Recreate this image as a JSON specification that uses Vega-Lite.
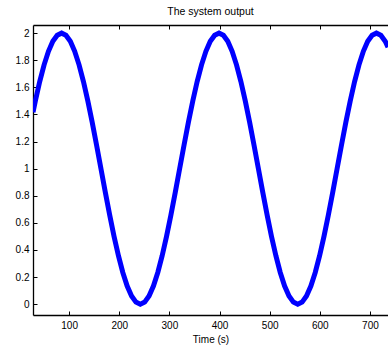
{
  "$schema": "https://vega.github.io/schema/vega-lite/v6.json",
  "autosize": "none",
  "width": 355,
  "height": 290,
  "padding": {"left": 33, "top": 25, "right": 0, "bottom": 34},
  "background": "white",
  "config": {
    "view": {"stroke": null},
    "font": "Liberation Sans",
    "axis": {"grid": false, "domainColor": "black", "domainWidth": 1.3, "tickColor": "black", "tickWidth": 1, "labelColor": "black", "titleColor": "black", "labelFont": "Liberation Sans", "titleFont": "Liberation Sans", "labelFontSize": 10, "titleFontSize": 10, "titleFontWeight": "normal"}
  },
  "title": {"text": "The system output", "fontSize": 10.5, "fontWeight": "normal", "font": "Liberation Sans", "color": "black", "offset": 7},
  "data": {"values": [
    {"t": 28.0, "y": 1.417},
    {"t": 32.67, "y": 1.5},
    {"t": 41.39, "y": 1.6428},
    {"t": 50.11, "y": 1.766},
    {"t": 58.83, "y": 1.866},
    {"t": 67.56, "y": 1.9397},
    {"t": 76.28, "y": 1.9848},
    {"t": 85.0, "y": 2.0},
    {"t": 93.72, "y": 1.9848},
    {"t": 102.44, "y": 1.9397},
    {"t": 111.17, "y": 1.866},
    {"t": 119.89, "y": 1.766},
    {"t": 128.61, "y": 1.6428},
    {"t": 137.33, "y": 1.5},
    {"t": 146.06, "y": 1.342},
    {"t": 154.78, "y": 1.1736},
    {"t": 163.5, "y": 1.0},
    {"t": 172.22, "y": 0.8264},
    {"t": 180.94, "y": 0.658},
    {"t": 189.67, "y": 0.5},
    {"t": 198.39, "y": 0.3572},
    {"t": 207.11, "y": 0.234},
    {"t": 215.83, "y": 0.134},
    {"t": 224.56, "y": 0.0603},
    {"t": 233.28, "y": 0.0152},
    {"t": 242.0, "y": 0.0},
    {"t": 250.72, "y": 0.0152},
    {"t": 259.44, "y": 0.0603},
    {"t": 268.17, "y": 0.134},
    {"t": 276.89, "y": 0.234},
    {"t": 285.61, "y": 0.3572},
    {"t": 294.33, "y": 0.5},
    {"t": 303.06, "y": 0.658},
    {"t": 311.78, "y": 0.8264},
    {"t": 320.5, "y": 1.0},
    {"t": 329.22, "y": 1.1736},
    {"t": 337.94, "y": 1.342},
    {"t": 346.67, "y": 1.5},
    {"t": 355.39, "y": 1.6428},
    {"t": 364.11, "y": 1.766},
    {"t": 372.83, "y": 1.866},
    {"t": 381.56, "y": 1.9397},
    {"t": 390.28, "y": 1.9848},
    {"t": 399.0, "y": 2.0},
    {"t": 407.72, "y": 1.9848},
    {"t": 416.44, "y": 1.9397},
    {"t": 425.17, "y": 1.866},
    {"t": 433.89, "y": 1.766},
    {"t": 442.61, "y": 1.6428},
    {"t": 451.33, "y": 1.5},
    {"t": 460.06, "y": 1.342},
    {"t": 468.78, "y": 1.1736},
    {"t": 477.5, "y": 1.0},
    {"t": 486.22, "y": 0.8264},
    {"t": 494.94, "y": 0.658},
    {"t": 503.67, "y": 0.5},
    {"t": 512.39, "y": 0.3572},
    {"t": 521.11, "y": 0.234},
    {"t": 529.83, "y": 0.134},
    {"t": 538.56, "y": 0.0603},
    {"t": 547.28, "y": 0.0152},
    {"t": 556.0, "y": 0.0},
    {"t": 564.72, "y": 0.0152},
    {"t": 573.44, "y": 0.0603},
    {"t": 582.17, "y": 0.134},
    {"t": 590.89, "y": 0.234},
    {"t": 599.61, "y": 0.3572},
    {"t": 608.33, "y": 0.5},
    {"t": 617.06, "y": 0.658},
    {"t": 625.78, "y": 0.8264},
    {"t": 634.5, "y": 1.0},
    {"t": 643.22, "y": 1.1736},
    {"t": 651.94, "y": 1.342},
    {"t": 660.67, "y": 1.5},
    {"t": 669.39, "y": 1.6428},
    {"t": 678.11, "y": 1.766},
    {"t": 686.83, "y": 1.866},
    {"t": 695.56, "y": 1.9397},
    {"t": 704.28, "y": 1.9848},
    {"t": 713.0, "y": 2.0},
    {"t": 721.72, "y": 1.9848},
    {"t": 730.44, "y": 1.9397},
    {"t": 736.0, "y": 1.896}
  ]},
  "resolve": {"axis": {"x": "independent"}},
  "layer": [
    {
      "mark": {"type": "line", "opacity": 0},
      "encoding": {
        "x": {"field": "t", "type": "quantitative", "scale": {"domain": [28, 736], "nice": false, "zero": false}, "axis": {"orient": "top", "values": [100, 200, 300, 400, 500, 600, 700], "labels": false, "title": null, "tickSize": -4}},
        "y": {"field": "y", "type": "quantitative", "scale": {"domain": [-0.08, 2.06], "nice": false, "zero": false}, "axis": {"values": [0, 0.2, 0.4, 0.6, 0.8, 1, 1.2, 1.4, 1.6, 1.8, 2], "format": "~g", "title": null, "tickSize": -4, "labelPadding": 8}}
      }
    },
    {
      "mark": {"type": "line", "color": "#0000ff", "strokeWidth": 5, "clip": true},
      "encoding": {
        "x": {"field": "t", "type": "quantitative", "scale": {"domain": [28, 736], "nice": false, "zero": false}, "axis": {"orient": "bottom", "values": [100, 200, 300, 400, 500, 600, 700], "title": "Time (s)", "tickSize": -4, "labelPadding": 9, "titlePadding": 4}},
        "y": {"field": "y", "type": "quantitative", "scale": {"domain": [-0.08, 2.06], "nice": false, "zero": false}, "axis": {"values": [0, 0.2, 0.4, 0.6, 0.8, 1, 1.2, 1.4, 1.6, 1.8, 2], "format": "~g", "title": null, "tickSize": -4, "labelPadding": 8}}
      }
    }
  ]
}
